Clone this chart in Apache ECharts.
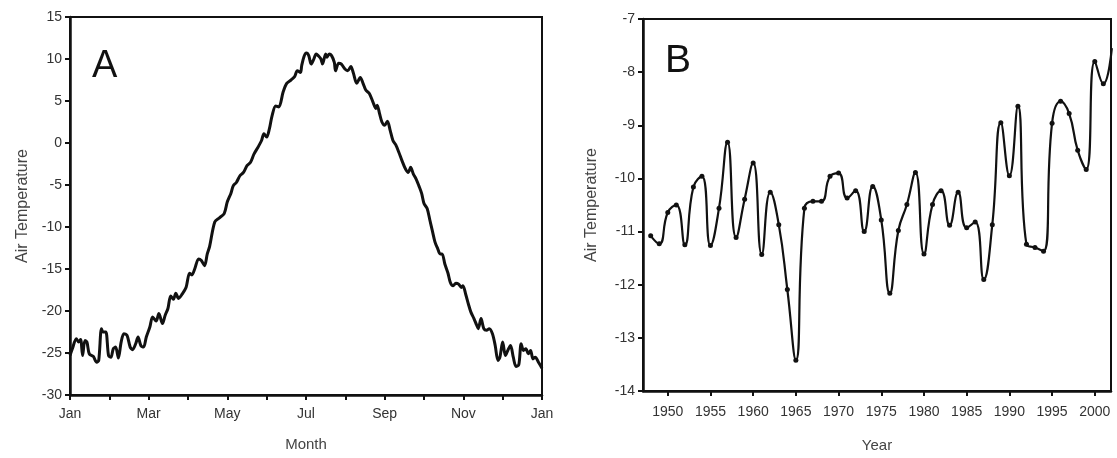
<!DOCTYPE html>
<html>
<head>
<meta charset="utf-8">
<script src="https://cdn.jsdelivr.net/npm/echarts@6/dist/echarts.min.js"></script>
<style>
html,body{margin:0;padding:0;background:#fff;}
#chart{width:1117px;height:458px;}
</style>
</head>
<body>
<div id="chart"></div>
<script>
// ---- Panel A: daily climatology (x in months from Jan 1) ----
const monthTickLabels = ['Jan','Feb','Mar','Apr','May','Jun','Jul','Aug','Sep','Oct','Nov','Dec','Jan'];
const monthPos = [0.00,0.06,0.16,0.22,0.27,0.32,0.38,0.43,0.49,0.59,0.68,0.73,0.80,0.84,0.91,0.98,1.04,1.10,1.16,1.23,1.30,1.37,1.45,1.53,1.59,1.67,1.73,1.80,1.87,1.94,2.03,2.10,2.19,2.26,2.35,2.42,2.49,2.56,2.63,2.69,2.76,2.85,2.95,3.04,3.10,3.17,3.27,3.34,3.42,3.49,3.55,3.68,3.80,3.92,4.00,4.09,4.15,4.23,4.32,4.41,4.50,4.59,4.68,4.78,4.87,4.93,5.00,5.07,5.14,5.23,5.31,5.42,5.51,5.62,5.71,5.78,5.86,5.89,5.95,6.01,6.07,6.13,6.19,6.26,6.31,6.38,6.42,6.50,6.53,6.59,6.65,6.72,6.75,6.83,6.90,6.99,7.06,7.14,7.20,7.29,7.38,7.45,7.52,7.61,7.70,7.78,7.81,7.87,7.93,8.00,8.07,8.14,8.21,8.28,8.36,8.44,8.53,8.60,8.66,8.73,8.80,8.87,8.94,9.00,9.08,9.15,9.21,9.28,9.35,9.41,9.46,9.53,9.61,9.67,9.74,9.81,9.88,9.95,9.99,10.06,10.13,10.19,10.27,10.34,10.38,10.45,10.52,10.59,10.66,10.74,10.81,10.88,10.93,11.00,11.07,11.13,11.20,11.27,11.34,11.41,11.47,11.53,11.59,11.65,11.71,11.77,11.83,11.91,12.00];
const tempA = [-25.3,-24.5,-23.3,-23.7,-23.4,-25.3,-23.5,-23.7,-25.1,-25.4,-26.1,-25.9,-22.1,-22.5,-22.5,-25.3,-25.5,-24.5,-24.3,-25.6,-23.7,-22.7,-22.9,-24.3,-24.6,-23.9,-23.1,-24.1,-24.3,-23.1,-21.9,-20.7,-21.2,-20.3,-21.5,-20.5,-19.7,-18.2,-18.6,-17.9,-18.5,-18.0,-17.2,-15.5,-15.7,-15.0,-13.8,-14.0,-14.6,-13.2,-12.3,-9.4,-8.9,-8.4,-7.0,-6.0,-5.1,-4.7,-3.9,-3.5,-2.7,-2.3,-1.3,-0.5,0.3,1.1,0.7,1.7,3.3,4.4,4.3,6.1,7.1,7.5,7.9,8.6,8.4,9.2,10.3,10.7,10.4,9.4,9.9,10.6,10.4,10.0,9.4,10.6,10.2,10.6,10.4,9.6,8.6,9.5,9.4,8.8,8.6,9.1,8.4,7.1,7.8,7.1,6.3,5.9,4.9,4.1,4.5,3.5,2.5,2.1,2.6,1.5,0.3,-0.2,-1.1,-2.1,-3.1,-3.5,-2.9,-3.7,-4.3,-5.1,-6.0,-7.2,-7.8,-9.2,-10.4,-11.8,-12.6,-13.2,-13.2,-14.4,-15.5,-16.6,-17.0,-16.7,-16.8,-17.2,-17.0,-18.0,-19.2,-20.1,-20.9,-21.7,-22.1,-20.9,-22.1,-22.3,-22.1,-22.7,-24.1,-25.9,-25.5,-23.7,-25.3,-24.7,-24.1,-25.5,-26.6,-26.4,-23.9,-24.7,-24.5,-25.1,-24.7,-25.7,-25.5,-26.1,-26.8];
const monthLabelValues = [0,2,4,6,8,10,12];
const yTicksA = [-30,-25,-20,-15,-10,-5,0,5,10,15];

// ---- Panel B: annual mean air temperature ----
const years = [1948,1949,1950,1951,1952,1953,1954,1955,1956,1957,1958,1959,1960,1961,1962,1963,1964,1965,1966,1967,1968,1969,1970,1971,1972,1973,1974,1975,1976,1977,1978,1979,1980,1981,1982,1983,1984,1985,1986,1987,1988,1989,1990,1991,1992,1993,1994,1995,1996,1997,1998,1999,2000,2001,2002];
const tempB = [-11.08,-11.23,-10.64,-10.50,-11.25,-10.16,-9.96,-11.26,-10.56,-9.32,-11.11,-10.39,-9.71,-11.43,-10.26,-10.87,-12.09,-13.42,-10.56,-10.43,-10.43,-9.96,-9.90,-10.37,-10.23,-11.00,-10.15,-10.78,-12.16,-10.98,-10.49,-9.89,-11.42,-10.49,-10.23,-10.88,-10.26,-10.93,-10.82,-11.90,-10.87,-8.95,-9.95,-8.64,-11.24,-11.30,-11.37,-8.96,-8.55,-8.78,-9.47,-9.83,-7.80,-8.22,-7.55];
const yearLabelValues = [1950,1955,1960,1965,1970,1975,1980,1985,1990,1995,2000];

const FONT = 'Liberation Sans, Arial, sans-serif';
const chart = echarts.init(document.getElementById('chart'), null, {renderer:'canvas'});

const dataA = monthPos.map((m,i)=>[m,tempA[i]]);
const dataB = years.map((y,i)=>[y,tempB[i]]);

const axisLine = {show:true, onZero:false, lineStyle:{color:'#111', width:2.5}};
const tick = {show:true, inside:false, length:5, lineStyle:{color:'#111', width:2}};
const lbl = {color:'#333', fontSize:14, fontFamily:FONT};
const nameStyle = {color:'#444', fontSize:15, fontFamily:FONT};

chart.setOption({
  animation:false,
  backgroundColor:'#fff',
  title:[
    {text:'A', left:87, top:43, textStyle:{fontSize:38, fontWeight:'normal', color:'#111', fontFamily:FONT}},
    {text:'B', left:660, top:37, textStyle:{fontSize:39, fontWeight:'normal', color:'#111', fontFamily:FONT}}
  ],
  grid:[
    {left:70, right:575, top:17, bottom:63, show:true, borderColor:'#111', borderWidth:2, containLabel:false},
    {left:643, right:6, top:19, bottom:64, show:true, borderColor:'#111', borderWidth:2, containLabel:false}
  ],
  xAxis:[
    {type:'value', gridIndex:0, min:0, max:12, interval:1,
     name:'Month', nameLocation:'middle', nameGap:42, nameTextStyle:{...nameStyle},
     axisLine:axisLine, axisTick:{...tick},
     axisLabel:{...lbl, margin:12, customValues:monthLabelValues, formatter:v=>monthTickLabels[Math.round(v)]},
     splitLine:{show:false}},
    {type:'value', gridIndex:1, min:1947.1, max:2001.9,
     name:'Year', nameLocation:'middle', nameGap:47, nameTextStyle:{...nameStyle},
     axisLine:axisLine,
     axisTick:{...tick, customValues:yearLabelValues},
     axisLabel:{...lbl, margin:14, customValues:yearLabelValues, formatter:v=>String(v)},
     splitLine:{show:false}}
  ],
  yAxis:[
    {type:'value', gridIndex:0, min:-30, max:15, interval:5,
     name:'Air Temperature', nameLocation:'middle', nameGap:39, nameRotate:90, nameTextStyle:{...nameStyle, fontSize:16},
     axisLine:axisLine, axisTick:{...tick},
     axisLabel:{...lbl, margin:8, customValues:yTicksA},
     splitLine:{show:false}},
    {type:'value', gridIndex:1, min:-14, max:-7, interval:1,
     name:'Air Temperature', nameLocation:'middle', nameGap:43, nameRotate:90, nameTextStyle:{...nameStyle, fontSize:16},
     axisLine:axisLine, axisTick:{...tick},
     axisLabel:{...lbl, margin:8},
     splitLine:{show:false}}
  ],
  series:[
    {type:'line', xAxisIndex:0, yAxisIndex:0, data:dataA, showSymbol:false, smooth:0.3,
     lineStyle:{color:'#111', width:3}, clip:true},
    {type:'line', xAxisIndex:1, yAxisIndex:1, data:dataB, smooth:0.5, symbol:'circle', symbolSize:5,
     itemStyle:{color:'#111'}, lineStyle:{color:'#111', width:2.2}, clip:true}
  ]
});
</script>
</body>
</html>
